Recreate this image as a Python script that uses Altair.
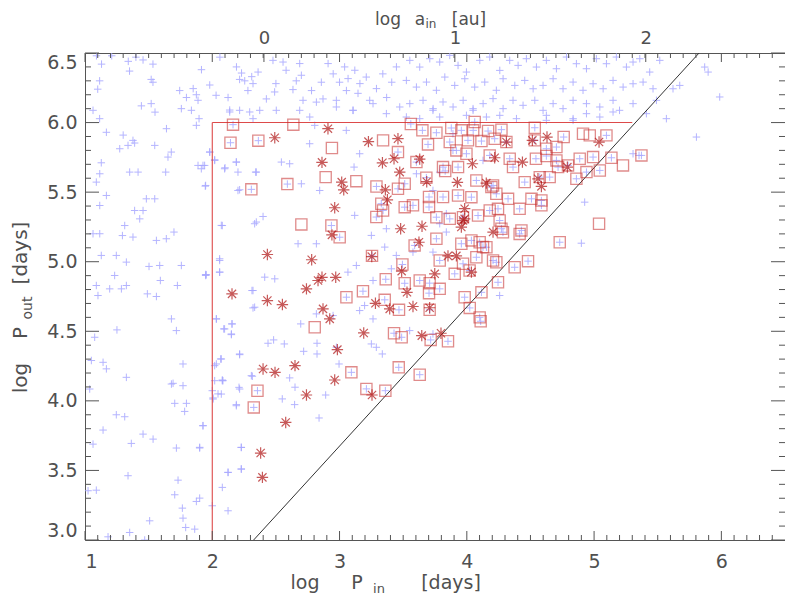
import altair as alt
import pandas as pd

# ---------------- data ----------------
# blue plus markers: log P_in, log P_out
plus_x = [1.09,1.13,1.115,1.10,1.21,1.35,1.34,1.40,1.456,1.534,1.52,1.534,1.443,1.52,1.55,1.64,1.744,1.757,1.797,1.85,
          1.875,1.888,1.915,1.98,2.03,2.06,2.124,2.137,2.19,2.215,2.23,2.255,2.31,2.32,2.28,2.36,2.425,2.477,2.50,2.49,
          2.556,2.58,2.634,2.66,2.687,2.70,2.713,2.78,2.766,2.818,2.857,2.87,2.91,2.95,2.975,3.00,3.04,3.054,3.067,3.12,
          3.16,3.145,3.21,3.237,3.29,3.34,3.37,3.41,3.447,1.063,1.115,1.168,1.30,1.377,1.836,1.896,2.373,2.32,1.875,2.215,3.106,
          3.552,3.630,3.709,3.787,3.866,3.931,3.997,4.102,4.18,4.259,4.337,4.403,4.468,4.547,4.625,4.704,4.783,4.861,4.94,5.018,
          5.097,5.175,5.254,5.306,5.359,5.437,5.516,3.525,3.604,3.683,3.761,3.827,3.905,3.984,4.062,4.141,4.232,4.285,4.377,4.455,
          4.521,4.599,4.678,4.756,4.835,4.913,4.992,5.071,5.149,5.228,5.306,5.385,5.463,3.552,3.656,3.735,3.813,3.892,3.971,4.049,
          4.128,4.206,4.285,4.363,4.442,4.534,4.599,4.678,4.756,4.835,4.94,5.045,5.149,5.2,5.306,5.49,5.411,3.525,3.63,3.787,
          3.997,4.154,4.259,4.39,4.625,4.835,5.045,5.62,5.673,5.869,5.896,5.987,5.568,5.804,
          5.306,5.353,4.926,4.90,4.258,4.625,4.835,4.94,5.149,
          2.032,2.097,2.155,2.15,2.32,2.438,2.482,2.566,2.695,2.823,2.823,2.718,2.215,2.066,2.019,2.307,2.079,2.215,2.045,2.006,
          2.189,2.55,2.647,2.608,2.65,2.891,2.839,2.996,1.927,2.228,2.228,2.124,3.263,3.158,3.197,3.25,3.289,3.336,3.551,3.734,
          2.818,2.949,2.975,1.901,
          1.128,1.116,1.089,1.168,1.116,1.063,1.116,1.128,1.089,1.194,1.102,1.246,1.325,1.233,1.325,1.286,1.351,1.417,1.273,1.338,
          1.39,1.548,1.652,1.678,1.634,1.482,1.548,1.39,1.456,1.43,1.312,1.294,1.377,1.561,1.639,1.699,1.503,1.587,1.757,1.592,
          1.726,1.49,1.561,1.948,1.679,1.718,1.251,1.076,1.05,1.142,1.168,1.325,1.77,1.692,1.888,1.927,1.914,1.945,2.019,1.98,
          2.1,2.189,2.202,2.202,2.341,2.079,2.346,2.058,2.058,1.953,2.312,2.333,2.032,2.09,2.155,2.15,2.215,2.071,2.032,2.019,
          2.079,2.315,
          1.037,1.142,1.246,1.312,1.364,1.456,1.535,1.063,1.338,1.024,1.089,1.508,1.351,1.181,1.469,1.679,1.77,1.705,1.797,1.783,
          1.927,1.718,1.901,1.731,1.705,1.765,1.77,1.901,1.875,1.791,1.862,2.0,2.124,2.0,2.006,2.071,2.079,2.124,2.189,2.21,
          2.228,2.228,2.084,
          2.137,1.98,2.019,2.189,2.097,1.94,2.543,2.608,1.948,2.215,2.346,2.7,2.844,3.114,3.158,3.053,2.805,2.071,2.333,2.399,
          2.058,2.058,1.948,2.412,2.491,2.32,2.674,2.818,3.119,3.25,3.368,3.355,3.446,3.132,3.066,3.263,3.407,3.577,3.734,3.839,
          3.787,3.839,3.734,3.604,3.787,4.127,3.891,3.891,3.368,3.473,3.734,4.049,3.106,3.263,2.975,2.687,2.503,2.294,2.765]
plus_y = [6.48,6.42,6.30,6.24,6.48,6.37,6.44,6.47,6.45,6.42,6.31,6.29,6.12,6.136,6.075,5.956,6.23,6.10,6.18,6.244,
          6.20,6.16,6.38,6.27,6.196,6.47,6.18,6.09,6.40,6.31,6.356,6.30,6.33,6.28,6.23,6.363,6.17,6.447,6.28,6.22,
          6.435,6.376,6.237,6.30,6.424,6.34,6.16,6.23,6.04,6.147,6.29,6.17,6.424,6.35,6.16,6.29,6.40,6.23,6.316,6.376,
          6.28,6.21,6.327,6.16,6.244,6.35,6.18,6.29,6.40,6.088,6.028,5.93,5.91,5.872,6.088,6.028,6.088,6.028,5.98,6.088,6.088,
          6.447,6.399,6.459,6.435,6.483,6.411,6.363,6.447,6.471,6.375,6.447,6.411,6.459,6.399,6.447,6.387,6.471,6.423,6.387,6.459,
          6.423,6.471,6.399,6.435,6.459,6.363,6.447,6.303,6.255,6.291,6.232,6.327,6.267,6.315,6.255,6.291,6.232,6.315,6.267,6.303,
          6.243,6.267,6.315,6.243,6.291,6.232,6.279,6.243,6.303,6.255,6.279,6.291,6.243,6.136,6.16,6.1,6.148,6.112,6.16,6.088,
          6.136,6.172,6.1,6.16,6.124,6.16,6.088,6.136,6.1,6.16,6.136,6.112,6.16,6.088,6.136,6.16,6.064,6.04,6.028,6.04,
          6.052,6.04,6.052,6.028,6.052,6.028,6.04,6.243,6.267,6.399,6.363,6.184,6.028,5.896,
          5.776,5.764,5.428,5.133,4.757,6.016,6.016,6.064,6.076,
          4.589,4.517,4.553,4.476,4.668,4.414,4.438,4.409,4.553,4.414,4.337,4.356,4.332,4.301,4.253,4.181,4.145,4.085,4.05,4.021,
          3.973,4.014,3.973,4.165,4.098,4.042,3.877,4.265,3.822,3.666,3.51,3.486,4.589,4.649,4.685,4.409,4.385,4.337,4.505,4.481,
          4.625,4.613,4.385,3.666,
          5.711,5.632,5.572,5.476,5.404,5.201,5.201,5.045,4.829,4.805,4.757,5.045,4.997,4.901,4.829,4.805,5.644,5.644,5.812,5.836,
          5.853,5.836,5.752,5.788,5.644,5.452,5.452,5.368,5.368,5.308,5.26,5.188,5.177,5.153,5.165,5.213,4.966,4.973,4.973,4.865,
          4.829,4.769,4.75,4.901,4.589,4.505,4.51,4.457,4.29,4.277,4.23,4.169,4.265,4.126,5.692,5.692,5.668,5.543,5.728,5.788,
          5.675,5.716,5.644,5.512,5.644,5.26,5.285,5.021,4.925,4.906,4.793,4.673,4.589,4.517,4.553,4.481,4.337,4.301,4.265,4.145,
          4.15,4.177,
          4.085,3.79,3.9,3.886,3.694,3.761,3.725,3.689,3.462,3.354,3.358,3.138,3.054,3.023,3.0,4.121,4.109,3.982,3.982,3.924,
          3.821,3.661,3.661,3.43,3.325,3.229,3.157,3.301,3.277,3.09,3.078,3.246,3.21,4.073,4.013,4.049,3.378,3.486,3.965,4.097,
          3.51,3.665,4.145,
          6.076,5.788,5.733,5.716,5.668,5.692,5.716,5.704,5.548,5.517,5.644,5.56,5.512,5.68,5.776,5.944,5.98,5.261,5.273,5.325,
          5.009,4.925,4.908,4.889,4.877,4.793,5.129,5.129,5.333,5.189,5.237,5.105,5.045,4.973,4.925,4.865,4.949,5.069,5.069,5.213,
          5.273,5.345,5.512,5.632,5.644,5.728,5.8,5.92,6.064,6.112,6.088,6.1,6.088,6.136,6.112,6.088,6.088,6.076,5.848]

# red squares: log P_in, log P_out, and whether a blue plus sits inside
sq_x = [2.163,2.143,2.362,2.637,2.94,3.342,3.56,3.651,3.761,2.307,2.59,2.891,3.132,3.29,3.459,3.682,3.604,3.459,3.695,2.70,
        2.936,3.001,3.342,3.512,3.255,3.494,3.363,3.512,3.63,3.787,3.054,3.184,3.355,3.467,3.59,3.328,3.289,3.577,3.703,3.703,
        3.813,3.708,3.787,3.703,3.708,3.512,3.761,3.761,3.813,3.83,3.866,3.878,
        3.957,4.062,4.05,4.167,4.272,4.534,4.761,4.913,4.966,5.097,
        3.866,4.009,4.115,4.219,4.311,4.534,4.625,4.704,
        3.918,3.997,4.18,4.337,4.543,4.625,4.704,4.887,4.992,5.136,5.227,5.372,
        3.931,4.075,4.193,4.206,4.363,4.455,4.573,4.651,4.717,4.795,4.861,4.94,5.045,
        3.931,4.036,4.232,4.324,4.415,4.508,4.586,4.586,
        3.97,4.088,4.18,4.245,4.258,4.272,4.284,4.415,4.429,
        3.957,4.036,4.101,4.154,4.73,5.039,
        3.97,4.075,4.232,4.376,4.481,3.905,
        4.245,4.115,3.983,4.023,4.101,4.127,4.206,4.022,
        2.805,2.355,2.326,3.093,3.211,3.36,3.465,3.428,3.488,3.63,3.716,3.852,4.109]
sq_y = [5.985,5.855,5.87,5.985,5.817,5.872,5.99,5.944,5.927,5.52,5.558,5.608,5.579,5.541,5.524,5.604,5.716,5.788,5.843,5.268,
        5.26,5.176,5.368,5.392,5.042,4.98,4.874,4.845,4.865,5.009,4.745,4.788,4.726,4.654,5.117,5.417,5.321,5.405,5.393,5.465,
        5.465,4.846,4.805,4.774,4.654,5.56,5.32,5.165,5.68,5.652,5.308,5.961,
        5.944,6.004,5.944,5.939,5.949,5.963,5.896,5.92,5.908,5.908,
        5.86,5.872,5.867,5.884,5.86,5.872,5.812,5.824,
        5.8,5.776,5.764,5.74,5.74,5.76,5.728,5.74,5.752,5.747,5.692,5.764,
        5.68,5.584,5.536,5.548,5.68,5.572,5.608,5.608,5.68,5.692,5.596,5.644,5.656,
        5.476,5.464,5.488,5.452,5.38,5.452,5.44,5.405,
        5.32,5.332,5.368,5.38,5.296,5.237,5.212,5.2,5.225,
        5.129,5.153,5.14,5.104,5.14,5.273,
        4.985,5.032,4.996,4.96,5.004,4.913,
        4.852,4.78,4.745,4.668,4.6,5.105,5.009,4.937,
        4.529,4.073,3.953,4.205,4.086,4.073,4.241,4.486,4.457,4.188,4.438,4.428,4.572]
sq_plus = [1,1,1,0,0,0,1,1,1,1,1,0,0,1,1,1,1,1,1,0,
           1,1,1,1,1,1,1,1,1,1,1,1,1,1,1,1,1,1,1,1,
           1,1,1,1,1,1,1,1,1,1,1,1,
           1,1,1,1,1,1,1,0,0,1,
           1,1,1,1,1,1,1,1,
           1,1,1,1,1,1,1,1,1,1,0,1,
           1,1,1,1,1,1,1,1,1,1,1,1,1,
           1,1,1,1,1,1,1,1,
           1,1,1,1,1,1,1,1,1,
           1,1,1,1,1,0,
           1,1,1,1,1,1,
           1,1,1,1,1,1,1,1,
           0,1,1,1,1,1,1,1,1,1,1,1,1]

# dark red asterisks
ast_x = [2.491,2.909,3.227,3.459,2.862,3.337,3.428,3.473,3.63,3.017,3.033,3.36,3.376,2.962,3.685,3.926,4.044,2.94,3.48,3.648,
         3.624,3.97,2.433,2.781,3.253,2.862,2.831,2.97,2.74,2.155,2.433,2.551,2.87,2.923,3.488,3.53,3.282,3.394,3.577,3.748,
         3.852,3.918,3.983,4.206,3.957,4.153,4.036,3.708,
         2.399,2.493,2.65,2.577,2.38,2.394,2.74,2.962,2.983,3.19,3.255,3.646,3.797,
         4.219,4.311,4.437,4.515,4.63,5.039,4.79,4.559,4.586,3.983]
ast_y = [5.891,5.956,5.863,5.884,5.714,5.711,5.74,5.644,5.737,5.572,5.517,5.517,5.445,5.388,5.575,5.57,5.704,5.193,5.237,5.255,
         5.14,5.296,5.052,5.014,5.037,4.888,4.865,4.888,4.805,4.769,4.721,4.692,4.661,4.589,4.932,4.78,4.701,4.661,4.678,4.913,
         5.042,5.042,5.381,5.213,5.249,5.565,4.925,4.669,
         4.229,4.205,4.253,3.845,3.625,3.45,4.042,4.15,4.368,4.488,4.042,4.469,4.486,
         5.747,5.86,5.716,5.872,5.896,5.86,5.68,5.596,5.541,5.308]

# red selection box (two segments) and black stability line
box_x1 = [2.0, 2.0]
box_x2 = [2.0, 5.3]
box_y1 = [3.0, 6.0]
box_y2 = [6.0, 6.0]
line_x = [2.325, 5.825]
line_y = [3.0, 6.5]

# axes
x_labels = [1, 2, 3, 4, 5, 6]
y_labels = [3.0, 3.5, 4.0, 4.5, 5.0, 5.5, 6.0, 6.5]
top_labels = [0, 1, 2]          # log a_in [au]
x_minor = [round(1 + 0.1 * i, 1) for i in range(1, 55) if i % 10]
y_minor = [round(3 + 0.1 * i, 1) for i in range(1, 35) if i % 5]
X_DOM = [1.0, 6.5]
Y_DOM = [3.0, 6.5]
TOP_DOM = [(1.0 - 2.406) / 1.5, (6.5 - 2.406) / 1.5]

W, H = 700, 487
FONT = "DejaVu Sans"
AX = "#555555"
TXT = "#505050"

# ---------------- tables ----------------
plus_df = pd.DataFrame({
    "x": plus_x + [a for a, f in zip(sq_x, sq_plus) if f],
    "y": plus_y + [b for b, f in zip(sq_y, sq_plus) if f],
})
sq_df = pd.DataFrame({"x": sq_x, "y": sq_y})
ast_df = pd.DataFrame({"x": ast_x, "y": ast_y})
box_df = pd.DataFrame({"x": box_x1, "x2": box_x2, "y": box_y1, "y2": box_y2})
line_df = pd.DataFrame({"x": [line_x[0]], "x2": [line_x[1]], "y": [line_y[0]], "y2": [line_y[1]]})

xs = alt.Scale(domain=X_DOM, nice=False, zero=False)
ys = alt.Scale(domain=Y_DOM, nice=False, zero=False)
x_axis = alt.Axis(values=x_labels, format="d", labelPadding=12, title=None)
y_axis = alt.Axis(values=y_labels, format=".1f", labelPadding=8, labelFlush=True, title=None)


def X(f):
    return alt.X(f, type="quantitative", scale=xs, axis=x_axis, title=None)


def Y(f):
    return alt.Y(f, type="quantitative", scale=ys, axis=y_axis, title=None)


PLUS = "M-1,0L1,0M0,-1L0,1"
AST = "M-1,0L1,0M0,-1L0,1M-0.72,-0.72L0.72,0.72M-0.72,0.72L0.72,-0.72"

pluses = alt.Chart(plus_df).mark_point(shape=PLUS, filled=False, size=56, stroke="#a8a8ff",
                                       strokeWidth=1, opacity=0.85, clip=True).encode(x=X("x"), y=Y("y"))
box = alt.Chart(box_df).mark_rule(color="#dd4a4a", strokeWidth=1.1).encode(x=X("x"), x2="x2", y=Y("y"), y2="y2")
diag = alt.Chart(line_df).mark_rule(color="#333333", strokeWidth=1).encode(x=X("x"), x2="x2", y=Y("y"), y2="y2")
squares = alt.Chart(sq_df).mark_point(shape="square", filled=False, size=125, stroke="#c83232",
                                      strokeWidth=1.3, strokeOpacity=0.8, clip=True).encode(x=X("x"), y=Y("y"))
asts = alt.Chart(ast_df).mark_point(shape=AST, filled=False, size=130, stroke="#b01414",
                                    strokeWidth=1.2, clip=True).encode(x=X("x"), y=Y("y"))


def tick_layer(vals, horiz, start, end):
    df = pd.DataFrame({"v": vals})
    ch = alt.Chart(df).mark_rule(color=AX, strokeWidth=1)
    if horiz:
        return ch.encode(y=Y("v"), x=alt.value(start), x2=alt.value(end))
    return ch.encode(x=X("v"), y=alt.value(start), y2=alt.value(end))


ticks = [
    tick_layer(x_minor, False, H, H - 5),
    tick_layer(x_labels, False, H, H - 9),
    tick_layer(x_minor, False, 0, 5),
    tick_layer(x_labels, False, 0, 9),
    tick_layer(y_minor, True, 0, 6),
    tick_layer(y_labels, True, 0, 14),
    tick_layer(y_minor, True, W, W - 6),
    tick_layer(y_labels, True, W, W - 14),
]


def txt(s, x, y, size, angle=0):
    return alt.Chart(pd.DataFrame({"t": [s]})).mark_text(
        text=s, font=FONT, fontSize=size, color=TXT, angle=angle, align="center", baseline="alphabetic"
    ).encode(x=alt.value(x), y=alt.value(y))


titles = [
    # bottom: log P_in [days]
    txt("log", 220, 536, 19), txt("P", 272, 536, 19), txt("in", 294, 540, 13), txt("[days]", 366, 536, 19),
    # top: log a_in [au]
    txt("log", 303, -28, 17), txt("a", 335, -28, 17), txt("in", 346, -25, 12), txt("[au]", 384, -28, 17),
    # left: log P_out [days]
    txt("log", -58, 325, 20, 270), txt("P", -58, 280, 20, 270), txt("out", -53, 255, 14, 270),
    txt("[days]", -58, 200, 20, 270),
]

main = alt.layer(pluses, box, diag, squares, asts, *ticks, *titles)

top = alt.Chart(pd.DataFrame({"la": top_labels})).mark_rule(color=AX, strokeWidth=1).encode(
    x=alt.X("la:Q", scale=alt.Scale(domain=TOP_DOM, nice=False, zero=False),
            axis=alt.Axis(orient="top", values=top_labels, format="d", labelPadding=6,
                          labelFontSize=18, title=None), title=None),
    y=alt.value(0), y2=alt.value(9),
)

chart = alt.layer(main, top).resolve_scale(x="independent").properties(
    width=W, height=H,
    autosize=alt.AutoSizeParams(type="none"),
    padding={"left": 77, "top": 45, "right": 0, "bottom": 55},
).configure_view(stroke=AX, strokeWidth=1).configure_axis(
    grid=False, domain=False, ticks=False, tickSize=0,
    labelFont=FONT, labelFontSize=19, labelColor=TXT,
)

chart.save("out.html", embed_options={"renderer": "svg", "actions": False})
